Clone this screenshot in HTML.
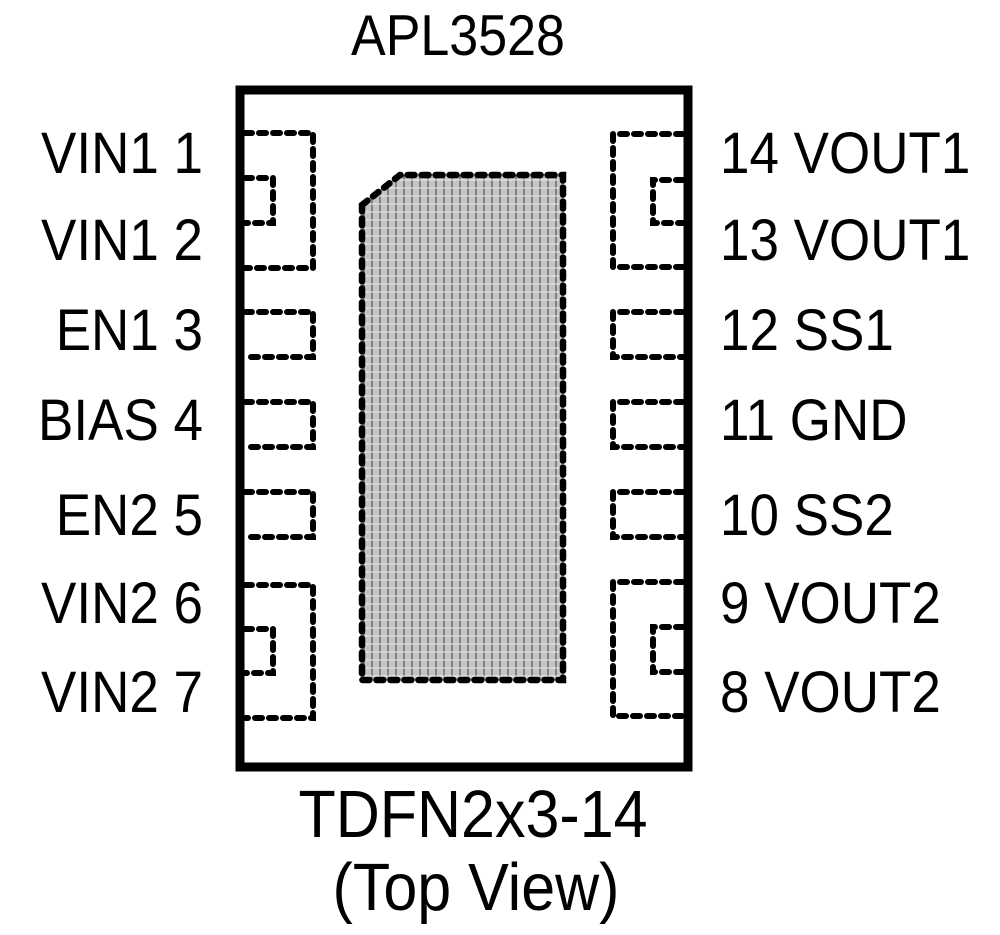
<!DOCTYPE html>
<html><head><style>
html,body{margin:0;padding:0;background:#fff;}
svg{display:block;}
text{font-family:"Liberation Sans",Arial,sans-serif;fill:#000;}
</style></head><body>
<svg width="1000" height="935" viewBox="0 0 1000 935" xmlns="http://www.w3.org/2000/svg">
<defs>
<pattern id="g" width="8" height="8" patternUnits="userSpaceOnUse">
<rect width="8" height="8" fill="#c4c4c4"/>
<line x1="4" y1="0" x2="4" y2="8" stroke="#555" stroke-width="1.2"/>
<line x1="0" y1="4" x2="8" y2="4" stroke="#eee" stroke-width="1"/>
</pattern>
</defs>
<text transform="translate(458,55) scale(1,1.1)" font-size="52" text-anchor="middle">APL3528</text>
<rect x="240" y="90" width="448" height="677" fill="none" stroke="#000" stroke-width="9"/>
<g fill="none" stroke="#000" stroke-width="6" stroke-dasharray="7 7" stroke-linecap="round">
<path d="M245 133 H313 V268 H245"/>
<path d="M245 178 H273 V223 H245"/>
<path d="M245 312 H313 V357 H245"/>
<path d="M245 402 H313 V447 H245"/>
<path d="M245 492 H313 V537 H245"/>
<path d="M245 585 H313 V718 H245"/>
<path d="M245 629 H273 V673 H245"/>
<path d="M683 134 H613 V267 H683"/>
<path d="M683 180 H653 V223 H683"/>
<path d="M683 312 H613 V357 H683"/>
<path d="M683 402 H613 V447 H683"/>
<path d="M683 492 H613 V537 H683"/>
<path d="M683 582 H613 V716 H683"/>
<path d="M683 627 H653 V672 H683"/>
</g>
<path d="M362 205 L400 175 H563 V680 H362 Z" fill="url(#g)" stroke="#000" stroke-width="6.5" stroke-dasharray="7 7" stroke-linecap="round"/>
<g font-size="53" text-anchor="end">
<text transform="translate(203,173) scale(1,1.1)">VIN1 1</text>
<text transform="translate(203,260) scale(1,1.1)">VIN1 2</text>
<text transform="translate(203,350) scale(1,1.1)">EN1 3</text>
<text transform="translate(203,440) scale(1,1.1)">BIAS 4</text>
<text transform="translate(203,535) scale(1,1.1)">EN2 5</text>
<text transform="translate(203,623) scale(1,1.1)">VIN2 6</text>
<text transform="translate(203,712) scale(1,1.1)">VIN2 7</text>
</g>
<g font-size="53">
<text transform="translate(720,173) scale(1,1.1)">14 VOUT1</text>
<text transform="translate(720,260) scale(1,1.1)">13 VOUT1</text>
<text transform="translate(720,350) scale(1,1.1)">12 SS1</text>
<text transform="translate(720,440) scale(1,1.1)">11 GND</text>
<text transform="translate(720,535) scale(1,1.1)">10 SS2</text>
<text transform="translate(720,623) scale(1,1.1)">9 VOUT2</text>
<text transform="translate(720,712) scale(1,1.1)">8 VOUT2</text>
</g>
<text transform="translate(473,837) scale(1,1.1)" font-size="61" text-anchor="middle">TDFN2x3-14</text>
<text transform="translate(476,910) scale(1,1.1)" font-size="61" text-anchor="middle">(Top View)</text>
</svg>
</body></html>
